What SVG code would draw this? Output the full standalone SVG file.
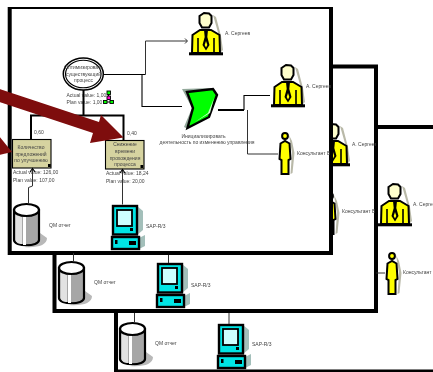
<svg xmlns="http://www.w3.org/2000/svg" xmlns:xlink="http://www.w3.org/1999/xlink" width="433" height="372" viewBox="0 0 433 372">
<style>
text{font-family:"Liberation Sans",Arial,sans-serif;font-size:5px;fill:#444}
.m{text-anchor:middle}
.frame{fill:#fff;stroke:#000;stroke-width:4}
.c{fill:none;stroke:#333;stroke-width:1}
.k{fill:none;stroke:#000;stroke-width:1.1}
.b{fill:none;stroke:#000;stroke-width:2}
.box{fill:#d6d3a0;stroke:#000;stroke-width:1.1}
.red{fill:#7e0a0a}
</style>
<defs>
<filter id="soft" x="0" y="0" width="100%" height="100%"><feGaussianBlur stdDeviation="0.4"/></filter>
<clipPath id="c1"><rect x="9" y="7" width="322" height="246"/></clipPath>
<clipPath id="c2"><rect x="55" y="67" width="321" height="244"/></clipPath>
<symbol id="manager" width="36" height="45" viewBox="0 0 36 45" overflow="visible">
<path d="M24 3 L27 5 L32 24 L34 38 L31 41 L30 24 Z" fill="#b9b9a8"/>
<path d="M10.500 4 L15 1 L20 1.500 L22.500 4 L22.500 11 L20 15.500 L13 15.500 L10.500 11 Z" fill="#ffffcc" stroke="#000" stroke-width="2"/>
<path d="M3.500 23 L11 18 L22 18 L30.500 23 L31 41 L3 41 Z" fill="#ffff00" stroke="#000" stroke-width="2"/>
<path d="M9 26 V41 M25 26 V41" stroke="#000" stroke-width="1.600" fill="none"/>
<path d="M15 18 H19 L18.300 25 L20.500 33 L17 38.500 L13.500 33 L15.700 25 Z" fill="#000"/>
<path d="M17 29 L18.300 33 L17 35.500 L15.700 33 Z" fill="#ffff00"/>
<rect x="0" y="40.300" width="34" height="3" fill="#000"/>
</symbol>
<symbol id="person" width="18" height="45" viewBox="0 0 18 45" overflow="visible">
<path d="M11 4 L14 10 L16.500 22 L14.500 42 L12.500 43 L14 22 Z" fill="#b9b9a8"/>
<circle cx="7" cy="5" r="2.900" fill="#ffff00" stroke="#000" stroke-width="2"/>
<path d="M2.500 12.500 L7 10 L11.500 12.500 L12.500 28 L10.500 29 L10.500 43 L3.500 43 L3.500 29 L1.500 28 Z" fill="#ffff00" stroke="#000" stroke-width="2"/>
</symbol>
<symbol id="cylinder" width="36" height="46" viewBox="0 0 36 46" overflow="visible">
<path d="M27 30 L34 35 C34 42 25 45 11 44 C20 43 27 38 27 30 Z" fill="#b8b8b8"/>
<path d="M1 7 V37 C1 44 26 44 26 37 V7 Z" fill="#a6a6a6" stroke="#000" stroke-width="2.200"/>
<path d="M2.500 12 V37 C3 40 6 41 9 41 V14 Z" fill="#e2e2e2"/>
<rect x="10" y="14" width="3" height="28" fill="#fff"/>
<ellipse cx="13.500" cy="7" rx="12.500" ry="6" fill="#fff" stroke="#000" stroke-width="2.200"/>
</symbol>
<symbol id="computer" width="36" height="46" viewBox="0 0 36 46" overflow="visible">
<path d="M26 1 L32 6 V25 L26 30 Z" fill="#a3bfba"/>
<path d="M28 33 L34 30 V41 L28 44 Z" fill="#a3bfba"/>
<rect x="2" y="1" width="24" height="28.500" fill="#00e5e5" stroke="#000" stroke-width="2.400"/>
<rect x="6" y="5" width="15" height="16" fill="#ccffff" stroke="#000" stroke-width="1.800"/>
<rect x="19" y="23" width="3" height="3" fill="#000"/>
<rect x="1" y="32" width="27" height="12" fill="#00e5e5" stroke="#000" stroke-width="2.400"/>
<rect x="4" y="35" width="2.500" height="4" fill="#000"/>
<rect x="18" y="36" width="7" height="4" fill="#000"/>
</symbol>
</defs>
<g filter="url(#soft)">
<g id="frame-3">
<rect class="frame" x="116" y="127" width="330" height="244.500"/>
<g id="cylinder-3"><use href="#cylinder" x="119" y="322"/><text x="155" y="345">QM отчет</text></g>
<g id="computer-3"><use href="#computer" x="217" y="324"/><text x="252" y="346">SAP-R/3</text></g>
<g id="manager-3"><use href="#manager" x="378" y="183"/><text x="413" y="206">А. Сергеев</text></g>
<g id="person-3"><use href="#person" x="385" y="251"/><text x="403" y="274">Консультант В</text></g>
</g>
<g id="frame-2">
<rect class="frame" x="54.500" y="66.500" width="321.500" height="244.500"/>
<g clip-path="url(#c2)">
<g id="cylinder-2"><use href="#cylinder" x="58" y="261"/><text x="94" y="284">QM отчет</text></g>
<g id="computer-2"><use href="#computer" x="156" y="263"/><text x="191" y="287">SAP-R/3</text></g>
<g id="manager-2"><use href="#manager" x="316" y="123"/><text x="352" y="146">А. Сергеев</text></g>
<g id="person-2"><use href="#person" x="323" y="191"/><text x="342" y="213">Консультант В</text></g>
</g>
</g>
<g id="frame-1">
<rect class="frame" x="9.700" y="7" width="321.300" height="246"/>
<g clip-path="url(#c1)">
<g id="manager-1a"><use href="#manager" x="189" y="12"/><text x="225" y="35">А. Сергеев</text></g>
<g id="manager-1b"><use href="#manager" x="271" y="64"/><text x="306" y="88">А. Сергеев</text></g>
<g id="person-1"><use href="#person" x="278" y="131"/><text x="297" y="155">Консультант В</text></g>
<g id="cylinder-1"><use href="#cylinder" x="13" y="203"/><text x="49" y="227">QM отчет</text></g>
<g id="computer-1"><use href="#computer" x="111" y="205"/><text x="146" y="228">SAP-R/3</text></g>
</g>
<g id="process">
<ellipse cx="83.300" cy="74" rx="20" ry="16" fill="#fff" stroke="#000" stroke-width="1.500"/>
<ellipse cx="83.300" cy="74" rx="17.800" ry="13.800" fill="none" stroke="#000" stroke-width="1.100"/>
<text class="m" x="83.500" y="69">Оптимизировать</text>
<text class="m" x="83.500" y="76">существующий</text>
<text class="m" x="83.500" y="82">процесс</text>
<text x="66.500" y="97">Actual value:  1,00</text>
<text x="66.500" y="104">Plan value:  1,00</text>
</g>
<g id="status-icon">
<path d="M108.500 92 V100 M105 102 H112" stroke="#000" stroke-width="1"/>
<rect x="107" y="91" width="3.500" height="3.500" fill="#00ff00" stroke="#000" stroke-width=".9"/>
<rect x="107" y="96" width="3.500" height="3.500" fill="#ff00cc" stroke="#000" stroke-width=".9"/>
<rect x="103.500" y="100.500" width="3.500" height="3" fill="#00ff00" stroke="#000" stroke-width=".9"/>
<rect x="110" y="100.500" width="3.500" height="3" fill="#00ff00" stroke="#000" stroke-width=".9"/>
</g>
<g id="kpi-1">
<rect class="box" x="12.500" y="139.500" width="38.500" height="28.500"/>
<rect x="48" y="164" width="2.800" height="3" fill="#000"/>
<text class="m" x="31" y="149">Количество</text>
<text class="m" x="31" y="155.500">предложений</text>
<text class="m" x="31" y="162">по улучшению</text>
<text x="13" y="174">Actual value:  126,00</text>
<text x="13" y="182">Plan value:  107,00</text>
</g>
<g id="kpi-2">
<rect class="box" x="105.500" y="140.500" width="38.500" height="28.500"/>
<rect x="140.500" y="165" width="2.800" height="3" fill="#000"/>
<text class="m" x="125" y="146">Снижение</text>
<text class="m" x="125" y="153">времени</text>
<text class="m" x="125" y="160">прохождения</text>
<text class="m" x="125" y="166">процесса</text>
<text x="106" y="175">Actual value:  18,24</text>
<text x="106" y="183">Plan value:  20,00</text>
</g>
<g id="event">
<path d="M182 89 L212 88 L216 95 L208 118 L186 128 L184 127 L192 108 Z" fill="#93a99b"/>
<path d="M187 92 L213 89 L217 95 L209 117 L187.500 128 L193 108 Z" fill="#00ff00" stroke="#000" stroke-width="2.400"/>
<path d="M195 122 L208 113 L214 98 L210 113 Z" fill="#c8ffc8"/>
<text class="m" x="203.500" y="138">Инициализировать</text>
<text class="m" x="207" y="144">деятельность  по изменению управления</text>
</g>
<text x="34" y="134">0,60</text>
<text x="127" y="134.500">0,40</text>
</g>
<g id="connectors">
<path class="k" d="M103 74.500 H145.500"/>
<path class="c" d="M145.500 74.500 V41 H187"/>
<path class="c" d="M185 38.500 L187.500 41 L185 43.500"/>
<path class="k" d="M142 74.500 V106.500 H182"/>
<path class="b" d="M83.500 90 V115.500"/>
<path class="b" d="M31 139 V115.500 H123.500 V140"/>
<path class="c" d="M32.500 169 V186 L28.500 187.500 V203"/>
<path d="M30 172 L32.500 168.500 L35 172" class="k"/>
<path class="c" d="M122.500 170 V204.500"/>
<path d="M120 173 L122.500 169.500 L125 173" class="k"/>
<path class="b" d="M218 110 H244"/>
<path class="k" d="M244 110 V95.500 H270"/>
<path class="c" d="M247.500 110 V154 H278"/>
<path class="c" d="M73.500 253 V261 M168.500 255 V263 M134.500 313 V322 M229 313 V324 M376 273 H385"/>
</g>
<g id="highlight-arrows">
<path class="red" d="M-2 88.500 L99 122 L101 115 L123.500 137.500 L90 143 L93 133 L-2 101.500 Z"/>
<path class="red" d="M-1 136 L12 152 L-1 155 Z"/>
</g>
</g>
</svg>
